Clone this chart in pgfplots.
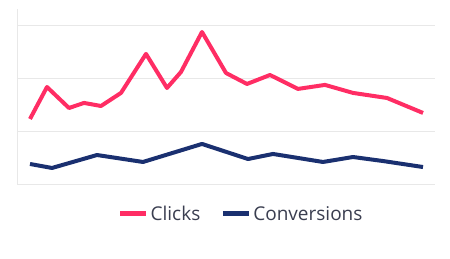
\documentclass[border=0pt]{standalone}
\usepackage{pgfplots}
\pgfplotsset{compat=1.18}
\usepackage{fontspec}
\setmainfont{Open Sans}
\definecolor{clickc}{RGB}{255,45,100}
\definecolor{convc}{RGB}{26,48,112}
\definecolor{gridc}{RGB}{232,232,232}
\definecolor{textc}{RGB}{58,62,80}
\begin{document}
\begin{tikzpicture}
\path (0,0) rectangle (450pt,258pt);
\begin{axis}[
  at={(17pt,74pt)}, anchor=south west,
  scale only axis, width=418pt, height=175pt,
  xmin=17, xmax=435, ymin=0, ymax=166,
  ytick={0,50,100,150}, yticklabels={}, xtick=\empty,
  ymajorgrids, grid style={gridc, line width=0.8pt},
  axis lines=left,
  x axis line style={draw=none},
  y axis line style={draw=gridc, line width=0.8pt, -},
  major tick length=0pt,
  legend columns=2,
  legend style={draw=none, at={(0.536,-0.171)}, anchor=center,
    font=\fontsize{19}{21}\selectfont, text=textc,
    /tikz/every even column/.append style={column sep=18pt}},
  legend image code/.code={\draw[line width=5pt] (0pt,0pt) -- (26pt,0pt);},
]
\addplot[clickc, line width=4pt, line join=round] coordinates {
(30,61.7) (47,92.0) (69,72.1) (84,76.9) (101,74.0) (121,86.4) (146,123.4)
(167,91.1) (181,106.3) (202,144.2) (226,105.3) (247,94.9) (270,103.4)
(298,90.2) (325,94.0) (353,86.4) (387,81.6) (423,67.4)};
\addlegendentry{Clicks}
\addplot[convc, line width=4pt, line join=round] coordinates {
(30,19.0) (52,15.2) (97,27.5) (143,20.9) (202,38.0) (248,23.7) (273,28.5)
(323,20.9) (353,25.6) (383,21.8) (423,16.1)};
\addlegendentry{Conversions}
\end{axis}
\end{tikzpicture}
\end{document}
